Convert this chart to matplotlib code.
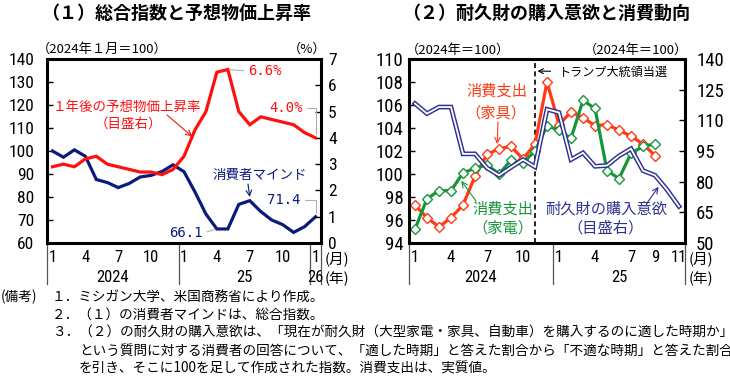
import matplotlib
matplotlib.use('Agg')
import matplotlib.pyplot as plt
from matplotlib import font_manager
from matplotlib.transforms import blended_transform_factory

plt.rcParams['font.family'] = ['Noto Sans CJK JP', 'DejaVu Sans']

W, H = 730, 377

# (1) Michigan sentiment (Jan 2024 = 100) and 1-year inflation expectation (%), Jan 2024 - Jan 2026
sentiment = [100.0, 97.3, 100.5, 97.7, 87.6, 86.3, 84.1, 85.9, 88.7, 89.4, 91.1, 94.0,
             91.0, 82.2, 72.6, 66.1, 66.1, 76.8, 78.4, 73.7, 70.0, 68.0, 64.6, 67.1, 71.4]
inflation = [2.9, 3.0, 2.9, 3.2, 3.3, 3.0, 2.9, 2.8, 2.7, 2.7, 2.6, 2.8,
             3.3, 4.3, 5.0, 6.5, 6.6, 5.0, 4.5, 4.8, 4.7, 4.6, 4.5, 4.2, 4.0]
ticks_1 = [0, 3, 6, 9, 12, 15, 18, 21, 24]
tick_labels_1 = ['1', '4', '7', '10', '1', '4', '7', '10', '1']
years_1 = ['2024', '25', '26']
year_spans_1 = [(0, 11), (12, 23), (24, 24)]

# (2) real spending on furniture / appliances (2024 = 100), Jan 2024 - Sep 2025
furniture = [97.3, 96.2, 95.4, 96.2, 97.3, 99.8, 101.7, 102.2, 102.4, 101.3, 102.6, 108.0,
             104.3, 105.4, 104.9, 104.2, 104.3, 103.8, 103.3, 102.6, 101.6]
appliances = [95.2, 97.85, 98.55, 98.55, 100.1, 100.5, 100.8, 100.0, 101.2, 101.0, 102.0, 104.2,
              103.8, 103.1, 106.4, 105.7, 100.3, 99.6, 101.8, 102.4, 102.6]
# durable goods buying conditions (2024 = 100, right scale), Jan 2024 - Nov 2025
durables = [118.2, 113.3, 116.5, 116.5, 93.6, 93.6, 86.7, 83.1, 87.0, 90.8, 87.2, 115.4,
            113.8, 90.8, 94.1, 87.5, 87.9, 92.6, 96.1, 85.4, 83.1, 76.1, 67.9]
ticks_2 = [0, 3, 6, 9, 12, 15, 18, 20, 22]
tick_labels_2 = ['1', '4', '7', '10', '1', '4', '7', '9', '11']
years_2 = ['2024', '25']
year_spans_2 = [(0, 11), (12, 22)]
election_idx = 10

notes = [
    '１．ミシガン大学、米国商務省により作成。',
    '２．（１）の消費者マインドは、総合指数。',
    '３．（２）の耐久財の購入意欲は、「現在が耐久財（大型家電・家具、自動車）を購入するのに適した時期か」',
    'という質問に対する消費者の回答について、「適した時期」と答えた割合から「不適な時期」と答えた割合',
    'を引き、そこに100を足して作成された指数。消費支出は、実質値。',
]

RED1 = '#FF1010'
NAVY1 = '#0C1A7C'
RED2 = '#FF3A14'
GREEN2 = '#16963A'
BLUE2 = '#2E3192'
LEAD = '#B0B0B0'


def pick_narrow_font():
    # narrow digits like the original; fall back to a plain sans with a smaller size
    fonts = font_manager.fontManager.ttflist
    names = {f.name for f in fonts}
    for name in ['Liberation Sans Narrow', 'Roboto Condensed', 'Open Sans Condensed']:
        if name in names:
            return dict(family=name), 1.0
    if any(f.name == 'DejaVu Sans' and f.stretch == 'condensed' for f in fonts):
        return dict(family='DejaVu Sans', stretch='condensed'), 0.95
    return dict(family='Liberation Sans'), 0.9


NUM, NUM_SCALE = pick_narrow_font()


def fx(x, y):
    # pixel position in the 730x377 image -> figure fraction
    return (x / W, 1 - y / H)


def num_labels(labels, size):
    for lab in labels:
        lab.set_fontfamily(NUM['family'])
        lab.set_fontsize(size * NUM_SCALE)
        if 'stretch' in NUM:
            lab.set_fontstretch(NUM['stretch'])


def style_axes(ax, axr, left_pad, right_pad, ysize):
    for sp in ax.spines.values():
        sp.set_linewidth(2.2)
    ax.tick_params(axis='y', direction='in', length=4, width=1, pad=left_pad)
    axr.tick_params(axis='y', direction='in', length=4, width=1, pad=right_pad)
    ax.tick_params(axis='x', length=0, pad=5)
    num_labels(ax.get_yticklabels(), ysize)
    num_labels(axr.get_yticklabels(), ysize)
    num_labels(ax.get_xticklabels(), 12)
    for sp in axr.spines.values():
        sp.set_visible(False)


def draw_year_axis(ax, spans, labels, edges):
    trans = blended_transform_factory(ax.transData, ax.transAxes)
    for b in edges:
        ax.plot([b, b], [0, -0.225], transform=trans, color='#555555', lw=0.9, clip_on=False)
    for (s, e), lab in zip(spans, labels):
        t = ax.text((s + e) / 2, -0.19, lab, transform=trans, ha='center', va='center')
        num_labels([t], 12)


fig = plt.figure(figsize=(W / 100, H / 100), dpi=100)

# ---------------- (1) ----------------
ax1 = fig.add_axes([47 / W, 1 - 243 / H, 274 / W, 184 / H])
ax1r = ax1.twinx()
x1 = list(range(len(sentiment)))
ax1.plot(x1, sentiment, color=NAVY1, lw=2.3, solid_joinstyle='miter')
ax1r.plot(x1, inflation, color=RED1, lw=2.3, solid_joinstyle='miter')
ax1.set_xlim(-0.5, len(sentiment) - 0.5)
ax1.set_ylim(60, 140)
ax1.set_yticks(range(60, 141, 10))
ax1r.set_ylim(0, 7)
ax1r.set_yticks(range(0, 8))
ax1.set_xticks(ticks_1, tick_labels_1)
style_axes(ax1, ax1r, 9, 5, 12.5)
draw_year_axis(ax1, year_spans_1, years_1, [-0.5, 11.5, 23.5, 24.5])

fig.text(*fx(176, 13), '（１）総合指数と予想物価上昇率', ha='center', va='center',
         fontsize=13, fontweight='bold')
fig.text(*fx(37, 49), '（2024年１月＝100）', ha='left', va='center', fontsize=9.5)
fig.text(*fx(326, 49), '（%）', ha='right', va='center', fontsize=9.5)
fig.text(*fx(337, 259), '(月)', ha='center', va='center', fontsize=10.5)
fig.text(*fx(337, 279), '(年)', ha='center', va='center', fontsize=10.5)

fig.text(*fx(127, 107), '１年後の予想物価上昇率', ha='center', va='center', fontsize=9.7, color=RED1)
fig.text(*fx(128, 124), '（目盛右）', ha='center', va='center', fontsize=9.7, color=RED1)
ax1r.annotate('', xy=(12.75, 4.05), xytext=fx(167, 115), textcoords='figure fraction',
              arrowprops=dict(arrowstyle='->', color=RED1, lw=0.8, shrinkA=0, shrinkB=0))

ax1r.annotate('6.6%', xy=(16, 6.6), xytext=fx(248, 71), textcoords='figure fraction',
              ha='left', va='center', fontsize=10, color=RED1, family='DejaVu Sans Mono',
              arrowprops=dict(arrowstyle='-', color=LEAD, lw=0.8, shrinkA=1, shrinkB=1,
                              relpos=(0, 0.5)))
ax1r.annotate('4.0%', xy=(24, 4.0), xytext=fx(303, 108), textcoords='figure fraction',
              ha='right', va='center', fontsize=10, color=RED1, family='DejaVu Sans Mono',
              arrowprops=dict(arrowstyle='-', color=LEAD, lw=0.8, shrinkA=1, shrinkB=3,
                              relpos=(1, 0.5),
                              connectionstyle='angle,angleA=0,angleB=90,rad=0'))

fig.text(*fx(260, 175), '消費者マインド', ha='center', va='center', fontsize=9.7, color=NAVY1)
ax1.annotate('', xy=(18, 80.0), xytext=fx(248, 184), textcoords='figure fraction',
             arrowprops=dict(arrowstyle='->', color=NAVY1, lw=0.8, shrinkA=0, shrinkB=0))
ax1.annotate('71.4', xy=(24, 71.4), xytext=fx(301, 200), textcoords='figure fraction',
             ha='right', va='center', fontsize=10, color=NAVY1, family='DejaVu Sans Mono',
             arrowprops=dict(arrowstyle='-', color=LEAD, lw=0.8, shrinkA=1, shrinkB=3,
                             relpos=(1, 0.5),
                             connectionstyle='angle,angleA=0,angleB=90,rad=0'))
ax1.annotate('66.1', xy=(15, 66.1), xytext=fx(203, 233), textcoords='figure fraction',
             ha='right', va='center', fontsize=10, color=NAVY1, family='DejaVu Sans Mono',
             arrowprops=dict(arrowstyle='-', color=LEAD, lw=0.8, shrinkA=1, shrinkB=2,
                             relpos=(1, 0.5)))

# ---------------- (2) ----------------
ax2 = fig.add_axes([409 / W, 1 - 243 / H, 276 / W, 184 / H])
ax2r = ax2.twinx()
ax2.axvline(election_idx, color='black', lw=1.2, ls=(0, (3, 2)))
ax2.plot(range(len(furniture)), furniture, color=RED2, lw=2.3, marker='D', ms=5,
         mfc='white', mec=RED2, mew=1.0)
ax2.plot(range(len(appliances)), appliances, color=GREEN2, lw=2.3, marker='D', ms=5,
         mfc='white', mec=GREEN2, mew=1.0)
ax2r.plot(range(len(durables)), durables, color=BLUE2, lw=3.4, solid_joinstyle='miter')
ax2r.plot(range(len(durables)), durables, color='white', lw=1.3, solid_joinstyle='miter')
ax2.set_xlim(-0.5, len(durables) - 0.5)
ax2.set_ylim(94, 110)
ax2.set_yticks(range(94, 111, 2))
ax2r.set_ylim(50, 140)
ax2r.set_yticks(range(50, 141, 15))
ax2.set_xticks(ticks_2, tick_labels_2)
style_axes(ax2, ax2r, 4, 8, 13.5)
draw_year_axis(ax2, year_spans_2, years_2, [-0.5, 11.5, 22.5])

fig.text(*fx(546, 13), '（２）耐久財の購入意欲と消費動向', ha='center', va='center',
         fontsize=13, fontweight='bold')
fig.text(*fx(406, 50), '（2024年＝100）', ha='left', va='center', fontsize=9.5)
fig.text(*fx(688, 50), '（2024年＝100）', ha='right', va='center', fontsize=9.5)
fig.text(*fx(701, 259), '(月)', ha='center', va='center', fontsize=10.5)
fig.text(*fx(701, 279), '(年)', ha='center', va='center', fontsize=10.5)

ax2.annotate('トランプ大統領当選', xy=(election_idx + 0.2, 108.95), xytext=fx(559, 72),
             textcoords='figure fraction', ha='left', va='center', fontsize=8.7,
             arrowprops=dict(arrowstyle='->', color='black', lw=0.8, shrinkA=4, shrinkB=0))

fig.text(*fx(497, 91), '消費支出', ha='center', va='center', fontsize=11, color=RED2)
fig.text(*fx(496, 113), '（家具）', ha='center', va='center', fontsize=11, color=RED2)
ax2.annotate('', xy=(6.85, 102.6), xytext=fx(498, 122), textcoords='figure fraction',
             arrowprops=dict(arrowstyle='->', color=RED2, lw=0.8, shrinkA=0, shrinkB=0))

fig.text(*fx(503, 209), '消費支出', ha='center', va='center', fontsize=11, color=GREEN2)
fig.text(*fx(503, 228), '（家電）', ha='center', va='center', fontsize=11, color=GREEN2)
ax2.annotate('', xy=(3.85, 99.4), xytext=fx(476, 201), textcoords='figure fraction',
             arrowprops=dict(arrowstyle='->', color=GREEN2, lw=0.8, shrinkA=0, shrinkB=0))

fig.text(*fx(606, 209), '耐久財の購入意欲', ha='center', va='center', fontsize=11, color=BLUE2)
fig.text(*fx(605, 228), '（目盛右）', ha='center', va='center', fontsize=11, color=BLUE2)
ax2r.annotate('', xy=(20.3, 77.5), xytext=fx(647, 203), textcoords='figure fraction',
              arrowprops=dict(arrowstyle='->', color=BLUE2, lw=0.8, shrinkA=0, shrinkB=0))

# ---------------- notes ----------------
fig.text(*fx(1, 297), '(備考)', ha='left', va='center', fontsize=9.8)
for i, line in enumerate(notes):
    xpos = 52 if i < 3 else 79
    fig.text(*fx(xpos, 297 + 18 * i), line, ha='left', va='center', fontsize=9.8)

fig.savefig('out.png', dpi=100)
